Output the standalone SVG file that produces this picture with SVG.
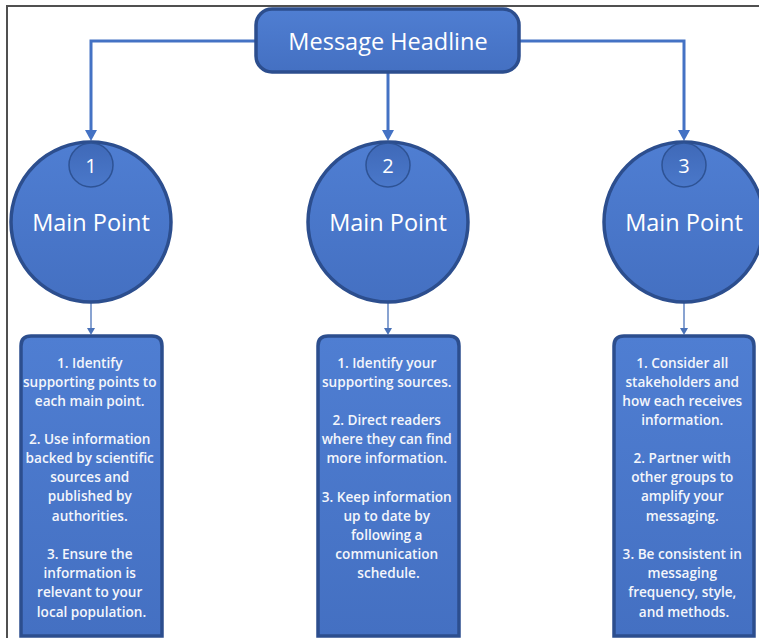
<svg xmlns="http://www.w3.org/2000/svg" width="759" height="638" viewBox="0 0 759 638">
  <defs>
    <style>
      .shape { fill: url(#fillGrad); stroke: #2C4E8E; stroke-width: 3.5; }
      .small { fill: url(#smallGrad); stroke: #2E5395; stroke-width: 1.5; }
      .conn { fill: none; stroke: #4472C4; stroke-width: 3; }
      .thin { fill: none; stroke: #4A72B8; stroke-width: 1.3; }
      .t { font-family: "Open Sans", "Liberation Sans", sans-serif; fill: #FFFFFF; text-anchor: middle; }
      .head { font-size: 23.5px; }
      .mp { font-size: 23.5px; }
      .num { font-size: 20px; }
      .body { font-size: 13.6px; font-weight: 600; fill: #F4F6FB; }
    </style>
    <linearGradient id="fillGrad" x1="0" y1="0" x2="0" y2="1">
      <stop offset="0" stop-color="#4F7ED2"/>
      <stop offset="1" stop-color="#4470C2"/>
    </linearGradient>
    <linearGradient id="smallGrad" x1="0" y1="0" x2="0" y2="1">
      <stop offset="0" stop-color="#3F69B8"/>
      <stop offset="1" stop-color="#4A78CA"/>
    </linearGradient>
    <marker id="arr" markerUnits="userSpaceOnUse" markerWidth="12" markerHeight="12" refX="0" refY="6" orient="auto" viewBox="0 0 12 12">
      <path d="M0,0 L11,6 L0,12 Z" fill="#4472C4"/>
    </marker>
    <marker id="arrs" markerUnits="userSpaceOnUse" markerWidth="8" markerHeight="8" refX="0" refY="4" orient="auto" viewBox="0 0 8 8">
      <path d="M0,0 L7,4 L0,8 Z" fill="#4A72B8"/>
    </marker>
  </defs>

  <rect width="759" height="638" fill="#FFFFFF"/>
  <g id="frame" fill="none" stroke="#505050" stroke-width="2">
    <path d="M7,638 V6 H759"/>
  </g>

  <g id="connectors">
    <path class="conn" d="M255,41 H91 V130" marker-end="url(#arr)"/>
    <path class="conn" d="M388,73 V130" marker-end="url(#arr)"/>
    <path class="conn" d="M520,41 H684 V130" marker-end="url(#arr)"/>
    <path class="thin" d="M91,303 V328" marker-end="url(#arrs)"/>
    <path class="thin" d="M388,303 V328" marker-end="url(#arrs)"/>
    <path class="thin" d="M684,303 V328" marker-end="url(#arrs)"/>
  </g>

  <g id="headline">
    <rect class="shape" x="256" y="9" width="263" height="63" rx="16"/>
    <text class="t head" x="388" y="50">Message Headline</text>
  </g>

  <g id="point1">
    <circle class="shape" cx="91" cy="222" r="80"/>
    <circle class="small" cx="91" cy="165" r="22"/>
    <text class="t num" x="91" y="173">1</text>
    <text class="t mp" x="91" y="231">Main Point</text>
  </g>
  <g id="point2">
    <circle class="shape" cx="388" cy="222" r="80"/>
    <circle class="small" cx="388" cy="165" r="22"/>
    <text class="t num" x="388" y="173">2</text>
    <text class="t mp" x="388" y="231">Main Point</text>
  </g>
  <g id="point3">
    <circle class="shape" cx="684" cy="222" r="80"/>
    <circle class="small" cx="684" cy="165" r="22"/>
    <text class="t num" x="684" y="173">3</text>
    <text class="t mp" x="684" y="231">Main Point</text>
  </g>

  <g id="box1">
    <path class="shape" d="M21,636 V346 Q21,336 31,336 H152 Q162,336 162,346 V636 Z"/>
    <text class="t body" x="91.5">
      <tspan x="91.5" y="368">1. Identify</tspan>
      <tspan x="91.5" y="387">supporting points to</tspan>
      <tspan x="91.5" y="406">each main point.</tspan>
      <tspan x="91.5" y="444">2. Use information</tspan>
      <tspan x="91.5" y="463">backed by scientific</tspan>
      <tspan x="91.5" y="482">sources and</tspan>
      <tspan x="91.5" y="501">published by</tspan>
      <tspan x="91.5" y="521">authorities.</tspan>
      <tspan x="91.5" y="559">3. Ensure the</tspan>
      <tspan x="91.5" y="578">information is</tspan>
      <tspan x="91.5" y="597">relevant to your</tspan>
      <tspan x="91.5" y="617">local population.</tspan>
    </text>
  </g>

  <g id="box2">
    <path class="shape" d="M318,636 V346 Q318,336 328,336 H449 Q459,336 459,346 V636 Z"/>
    <text class="t body" x="388.5">
      <tspan x="388.5" y="368">1. Identify your</tspan>
      <tspan x="388.5" y="387">supporting sources.</tspan>
      <tspan x="388.5" y="425">2. Direct readers</tspan>
      <tspan x="388.5" y="444">where they can find</tspan>
      <tspan x="388.5" y="463">more information.</tspan>
      <tspan x="388.5" y="502">3. Keep information</tspan>
      <tspan x="388.5" y="521">up to date by</tspan>
      <tspan x="388.5" y="540">following a</tspan>
      <tspan x="388.5" y="559">communication</tspan>
      <tspan x="388.5" y="578">schedule.</tspan>
    </text>
  </g>

  <g id="box3">
    <path class="shape" d="M614,636 V346 Q614,336 624,336 H744 Q754,336 754,346 V636 Z"/>
    <text class="t body" x="684">
      <tspan x="684" y="368">1. Consider all</tspan>
      <tspan x="684" y="387">stakeholders and</tspan>
      <tspan x="684" y="406">how each receives</tspan>
      <tspan x="684" y="425">information.</tspan>
      <tspan x="684" y="463">2. Partner with</tspan>
      <tspan x="684" y="482">other groups to</tspan>
      <tspan x="684" y="501">amplify your</tspan>
      <tspan x="684" y="521">messaging.</tspan>
      <tspan x="684" y="559">3. Be consistent in</tspan>
      <tspan x="684" y="578">messaging</tspan>
      <tspan x="684" y="597">frequency, style,</tspan>
      <tspan x="684" y="617">and methods.</tspan>
    </text>
  </g>
</svg>
